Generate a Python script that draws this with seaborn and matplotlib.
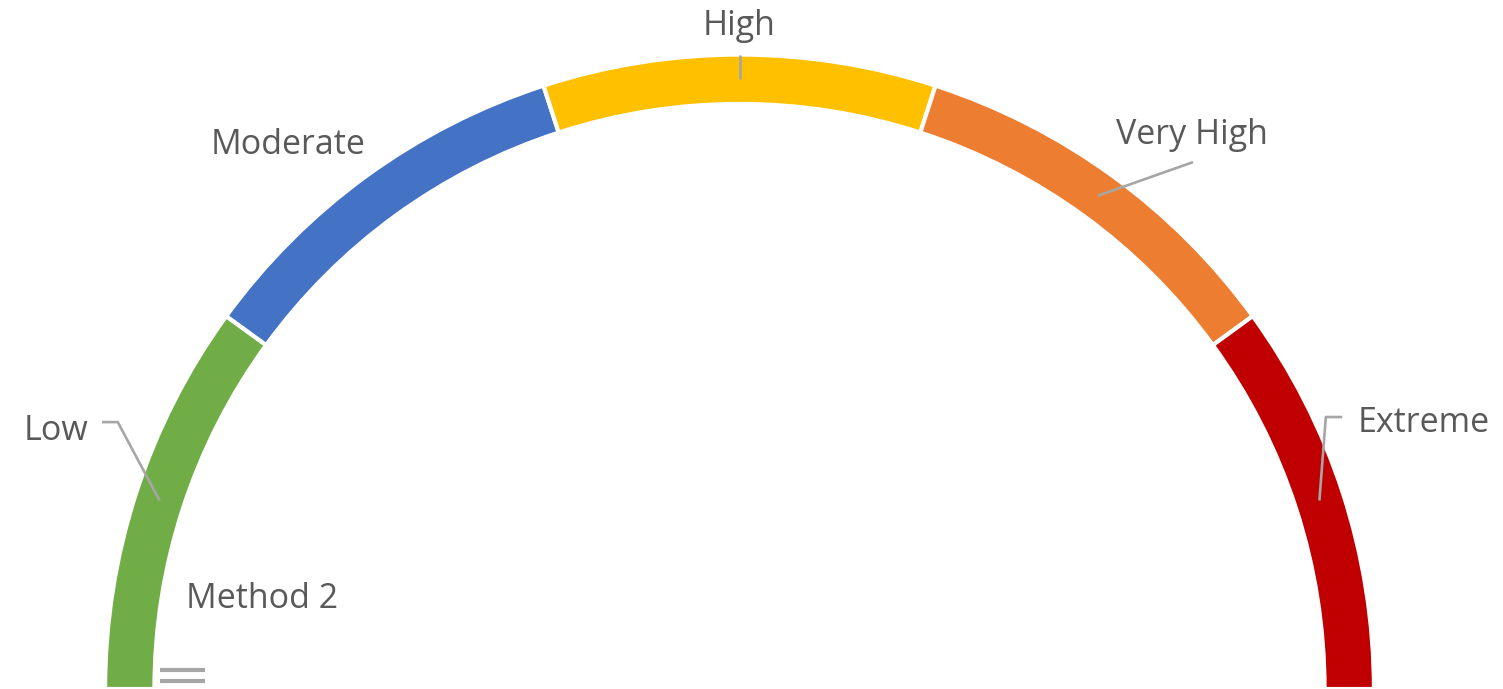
import numpy as np
import matplotlib
matplotlib.use("Agg")
import matplotlib.pyplot as plt
import seaborn as sns

# Gauge bands (equal shares), plus a hidden half that closes the circle
categories = ["Low", "Moderate", "High", "Very High", "Extreme"]
band_values = [20, 20, 20, 20, 20]
hidden_value = 100
series_name = "Method 2"
band_colors = ["#70AD47", "#4472C4", "#FFC000", "#ED7D31", "#C00000"]

sns.set_theme(style="white")
plt.rcParams["font.family"] = ["Open Sans", "DejaVu Sans"]

W, H, DPI = 1503, 689, 100
fig = plt.figure(figsize=(W / DPI, H / DPI), dpi=DPI)
ax = fig.add_axes([0, 0, 1, 1])

# pixel scale: gauge centre sits on the bottom edge
scale = 632.5
cx, cy = 739.5, 689.0

palette = sns.color_palette(band_colors)
values = band_values + [hidden_value]
colors = list(palette) + [(1, 1, 1, 0)]
wedges, _ = ax.pie(
    values, colors=colors, startangle=180, counterclock=False,
    radius=1.003, wedgeprops=dict(width=0.078, edgecolor="white", linewidth=3),
    frame=False,
)
wedges[-1].set_edgecolor("none")
ax.set_aspect("auto")
ax.set_xlim(-cx / scale, (W - cx) / scale)
ax.set_ylim(0, cy / scale)
ax.set_axis_off()

# mid-angles of each band, from the data
total = sum(values)
cum = np.cumsum([0] + band_values)
mid_deg = [180 - 360 * (cum[i] + cum[i + 1]) / 2 / total for i in range(len(band_values))]
ring_mid = 0.964

def ring_point(deg):
    t = np.deg2rad(deg)
    return ring_mid * np.cos(t), ring_mid * np.sin(t)

text_color = "#595959"
line_color = "#A6A6A6"
fs = 24.5

# label layout: (text xy, alignment, leader waypoints after the ring point)
layout = {
    "Low": ((-1.030, 0.408), "right", [(-0.983, 0.422), (-1.008, 0.422)]),
    "Moderate": ((-0.714, 0.860), "center", None),
    "High": ((0.0, 1.049), "center", [(0.0, 1.002)]),
    "Very High": ((0.716, 0.876), "center", [(0.717, 0.833)]),
    "Extreme": ((0.978, 0.421), "left", [(0.927, 0.430), (0.953, 0.430)]),
}

for cat, deg in zip(categories, mid_deg):
    (tx, ty), ha, path = layout[cat]
    if path:
        pts = [ring_point(deg)] + path
        xs, ys = zip(*pts)
        ax.plot(xs, ys, color=line_color, lw=1.9, solid_capstyle="butt", zorder=3)
    ax.text(tx, ty, cat, ha=ha, va="center", fontsize=fs, color=text_color)

ax.text(-0.755, 0.143, series_name, ha="center", va="center", fontsize=fs, color=text_color)

# small marker below the series name
for yy in (0.030, 0.0126):
    ax.plot([-0.916, -0.845], [yy, yy], color=line_color, lw=3, solid_capstyle="butt")

fig.savefig("out.png", dpi=DPI, facecolor="white")
